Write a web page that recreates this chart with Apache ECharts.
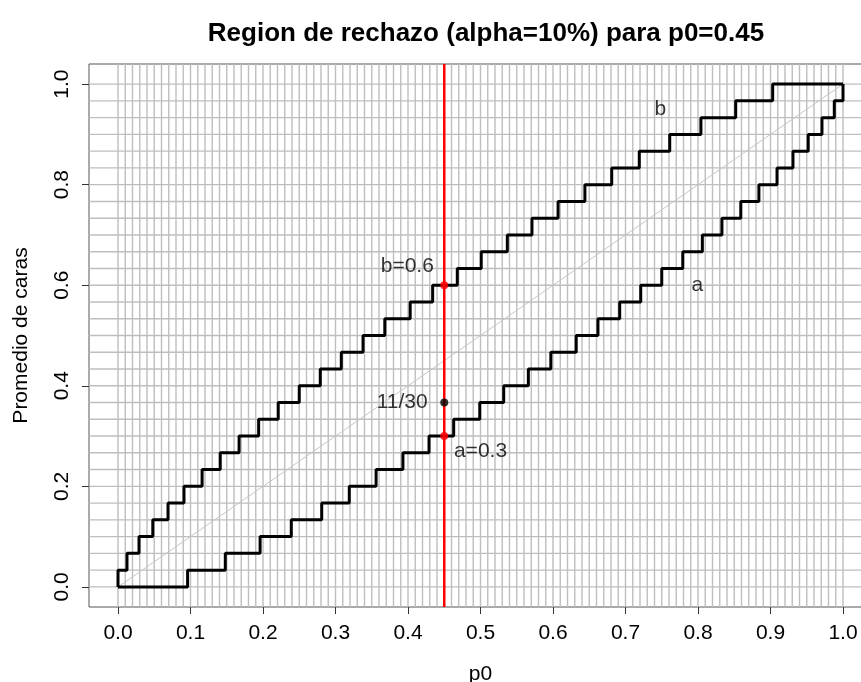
<!DOCTYPE html>
<html>
<head>
<meta charset="utf-8">
<script src="https://cdn.jsdelivr.net/npm/echarts@6/dist/echarts.min.js"></script>
<style>html,body{margin:0;padding:0;background:#fff;}#c{width:861px;height:682px;}</style>
</head>
<body>
<div id="c"></div>
<script>
// ---- data ----
const n = 30;
const p0 = 0.45;
const aValue = 0.3;
const bValue = 0.6;
const observed = 11 / 30;
// p0 where the upper bound b steps up to k/30 (k = 1..30)
const bJumps = [0, 0.0124, 0.029, 0.048, 0.069, 0.091, 0.116, 0.141, 0.167, 0.194,
  0.221, 0.250, 0.279, 0.308, 0.338, 0.368, 0.403, 0.434, 0.468, 0.501,
  0.537, 0.571, 0.607, 0.644, 0.681, 0.719, 0.761, 0.804, 0.852, 0.903];
// p0 where the lower bound a steps up to k/30 (k = 1..30)
const aJumps = [0.096, 0.148, 0.196, 0.239, 0.281, 0.319, 0.356, 0.393, 0.429, 0.463,
  0.499, 0.532, 0.566, 0.597, 0.632, 0.662, 0.692, 0.721, 0.750, 0.779,
  0.806, 0.833, 0.859, 0.884, 0.909, 0.931, 0.952, 0.971, 0.988, 1.0];
const xTicks = [0, 0.1, 0.2, 0.3, 0.4, 0.5, 0.6, 0.7, 0.8, 0.9, 1.0];
const yTicks = [0, 0.2, 0.4, 0.6, 0.8, 1.0];
const textLabels = [
  { text: 'b=0.6', x: 0.399, y: 0.638 },
  { text: '11/30', x: 0.392, y: 0.367 },
  { text: 'a=0.3', x: 0.500, y: 0.270 },
  { text: 'b', x: 0.748, y: 0.950 },
  { text: 'a', x: 0.799, y: 0.601 }
];
const titleText = 'Region de rechazo (alpha=10%) para p0=0.45';
const xName = 'p0';
const yName = 'Promedio de caras';

// ---- derived ----
const FONT = '"Liberation Sans", Arial, Helvetica, sans-serif';
const FS = 21;
const bData = [[0, 0]].concat(bJumps.map((p, i) => [p, (i + 1) / n])).concat([[1, 1]]);
const aData = [[0, 0]].concat(aJumps.map((p, i) => [p, (i + 1) / n]));
const gridItems = [];
for (let i = 0; i <= 100; i++) gridItems.push([i / 100, 0]);
for (let k = 0; k <= n; k++) gridItems.push([k / n, 1]);

const chart = echarts.init(document.getElementById('c'), null, { renderer: 'canvas' });
chart.setOption({
  animation: false,
  backgroundColor: '#fff',
  title: {
    text: titleText, left: 481, top: 16, textAlign: 'center',
    textStyle: { fontFamily: FONT, fontSize: 26, fontWeight: 'bold', color: '#000' }
  },
  grid: { left: 89, top: 64, width: 783, height: 543, show: true, borderColor: '#555', borderWidth: 1,
    backgroundColor: 'transparent', containLabel: false, outerBoundsMode: 'none' },
  xAxis: {
    type: 'value', min: -0.04, max: 1.04,
    name: xName, nameLocation: 'middle', nameGap: 57,
    nameTextStyle: { fontFamily: FONT, fontSize: FS, color: '#000' },
    axisLine: { show: false, onZero: false },
    splitLine: { show: false },
    axisTick: { show: true, customValues: xTicks, length: 7, lineStyle: { color: '#333' } },
    axisLabel: { customValues: xTicks, margin: 16, fontFamily: FONT, fontSize: FS, color: '#000',
      formatter: v => v.toFixed(1) }
  },
  yAxis: {
    type: 'value', min: -0.04, max: 1.04,
    name: yName, nameLocation: 'middle', nameGap: 57, nameRotate: 90,
    nameTextStyle: { fontFamily: FONT, fontSize: FS, color: '#000' },
    axisLine: { show: false, onZero: false },
    splitLine: { show: false },
    axisTick: { show: true, customValues: yTicks, length: 7, lineStyle: { color: '#333' } },
    axisLabel: { customValues: yTicks, margin: 16, rotate: 90, fontFamily: FONT, fontSize: FS, color: '#000',
      formatter: v => v.toFixed(1) }
  },
  series: [
    {
      type: 'custom', z: 1, silent: true,
      data: gridItems,
      renderItem: function (params, api) {
        const cs = params.coordSys;
        const v = api.value(0);
        const kind = api.value(1);
        let shape;
        if (kind === 0) {
          const x = api.coord([v, 0])[0];
          shape = { x1: x, y1: cs.y, x2: x, y2: cs.y + cs.height };
        } else {
          const y = api.coord([0, v])[1];
          shape = { x1: cs.x, y1: y, x2: cs.x + cs.width, y2: y };
        }
        return { type: 'line', shape: shape, style: { stroke: '#bebebe', lineWidth: 1.4 } };
      }
    },
    {
      type: 'line', z: 2, silent: true, symbol: 'none',
      data: [[0, 0], [1, 1]],
      lineStyle: { color: '#c6c6c6', width: 1 }
    },
    {
      type: 'line', z: 3, silent: true, symbol: 'none', step: 'end',
      data: bData,
      lineStyle: { color: '#000', width: 3 }
    },
    {
      type: 'line', z: 3, silent: true, symbol: 'none', step: 'end',
      data: aData,
      lineStyle: { color: '#000', width: 3 }
    },
    {
      type: 'line', z: 4, silent: true, symbol: 'none',
      data: [[p0, -0.04], [p0, 1.04]],
      lineStyle: { color: '#ff0000', width: 2.5 }
    },
    {
      type: 'scatter', z: 5, silent: true, symbolSize: 8,
      data: [
        { value: [p0, bValue], itemStyle: { color: '#ff0000' } },
        { value: [p0, aValue], itemStyle: { color: '#ff0000' } },
        { value: [p0, observed], itemStyle: { color: '#000' } }
      ]
    },
    {
      type: 'scatter', z: 6, silent: true, symbolSize: 0,
      data: textLabels.map(t => ({ value: [t.x, t.y], name: t.text })),
      label: { show: true, position: 'inside', formatter: p => p.name,
        fontFamily: FONT, fontSize: FS, color: '#000' }
    }
  ]
});
</script>
</body>
</html>
